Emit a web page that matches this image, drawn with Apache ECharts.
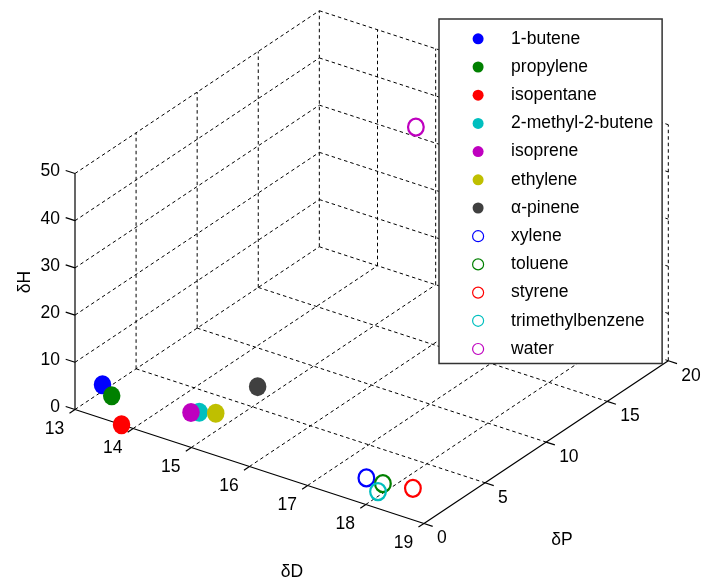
<!DOCTYPE html>
<html>
<head>
<meta charset="utf-8">
<script src="https://cdn.jsdelivr.net/npm/echarts@6/dist/echarts.min.js"></script>
<style>
  html, body { margin: 0; padding: 0; background: #fff; }
  #chart { width: 701px; height: 580px; }
</style>
</head>
<body>
<div id="chart"></div>
<script>
// Hansen solubility parameters (MPa^0.5) of each compound
const compounds = ['1-butene', 'propylene', 'isopentane', '2-methyl-2-butene', 'isoprene', 'ethylene',
                   'α-pinene', 'xylene', 'toluene', 'styrene', 'trimethylbenzene', 'water'];
const deltaD = [13.2, 13.4, 13.8, 14.8, 14.7, 15.0, 15.3, 17.8, 18.0, 18.6, 18.0, 15.5];
const deltaP = [1.3, 1.1, 0.0, 1.6, 1.4, 2.0, 4.0, 1.0, 1.4, 1.0, 1.0, 16.0];
const deltaH = [3.8, 2.6, 0.0, 3.9, 3.8, 3.8, 7.2, 3.1, 2.0, 4.1, 1.0, 42.3];
const hollow = [false, false, false, false, false, false, false, true, true, true, true, true];
const markerColors = ['#0000ff', '#008000', '#ff0000', '#00bfbf', '#bf00bf', '#bfbf00', '#404040',
                      '#0000ff', '#008000', '#ff0000', '#00bfbf', '#bf00bf'];

// Axis ticks
const dTicks = [13, 14, 15, 16, 17, 18, 19];
const pTicks = [0, 5, 10, 15, 20];
const hTicks = [0, 10, 20, 30, 40, 50];
const dRange = [13, 19], pRange = [0, 20], hRange = [0, 50];

// Orthographic view of the box: horizontal rotation and elevation in degrees
const AZ = 35.0, EL = 27.8;
const BOX = [1, 1, 0.6263];          // relative edge lengths along δD, δP, δH
const SCALE = 426;                   // pixels per box unit
const ORIGIN = [75, 409.5];          // pixel position of the (13, 0, 0) corner
const W = 701, H = 580;

const rad = Math.PI / 180;
const ca = Math.cos(AZ * rad), sa = Math.sin(AZ * rad);
const ce = Math.cos(EL * rad), se = Math.sin(EL * rad);

function project(d, p, h) {
  const u = (d - dRange[0]) / (dRange[1] - dRange[0]) * BOX[0];
  const v = (p - pRange[0]) / (pRange[1] - pRange[0]) * BOX[1];
  const w = (h - hRange[0]) / (hRange[1] - hRange[0]) * BOX[2];
  return [u * ca + v * sa, -u * sa * se + v * ca * se + w * ce];
}

// Box grid (dashed) and axes / ticks (solid): [x1, y1, x2, y2, solid]
const segments = [];
function addSeg(a, b, solid) {
  const p = project(a[0], a[1], a[2]);
  const q = project(b[0], b[1], b[2]);
  segments.push([p[0], p[1], q[0], q[1], solid ? 1 : 0]);
}
const [d0, d1] = dRange, [p0, p1] = pRange, [h0, h1] = hRange;
// floor
dTicks.forEach(d => { if (d !== d1) addSeg([d, p0, h0], [d, p1, h0], false); });
pTicks.forEach(p => { if (p !== p0) addSeg([d0, p, h0], [d1, p, h0], false); });
// δD = 13 wall
hTicks.forEach(h => { if (h !== h0) addSeg([d0, p0, h], [d0, p1, h], false); });
pTicks.forEach(p => { if (p !== p0) addSeg([d0, p, h0], [d0, p, h1], false); });
// δP = 20 wall
hTicks.forEach(h => { if (h !== h0) addSeg([d0, p1, h], [d1, p1, h], false); });
dTicks.forEach(d => { if (d !== d0) addSeg([d, p1, h0], [d, p1, h1], false); });
// axis lines
addSeg([d0, p0, h0], [d1, p0, h0], true);
addSeg([d1, p0, h0], [d1, p1, h0], true);
addSeg([d0, p0, h0], [d0, p0, h1], true);
// tick marks
dTicks.forEach(d => addSeg([d, p0, h0], [d, p0 - 0.45, h0], true));
pTicks.forEach(p => addSeg([d1, p, h0], [d1 + 0.15, p, h0], true));
hTicks.forEach(h => addSeg([d0, p0, h], [d0 - 0.16, p0, h], true));

// Tick labels: [x, y, axis (0 δD, 1 δP, 2 δH), value]
const tickLabels = [];
dTicks.forEach(d => { const q = project(d, p0, h0); tickLabels.push([q[0], q[1], 0, d]); });
pTicks.forEach(p => { const q = project(d1, p, h0); tickLabels.push([q[0], q[1], 1, p]); });
hTicks.forEach(h => { const q = project(d0, p0, h); tickLabels.push([q[0], q[1], 2, h]); });

const FONT = 'Liberation Sans, Arial, sans-serif';
const FS = 17.5;
const ELLIPSE = 'path://M0 -1A1 1 0 1 1 0 1A1 1 0 1 1 0 -1Z';

const series = [
  {
    type: 'custom',
    name: 'frame',
    coordinateSystem: 'cartesian2d',
    encode: { x: [0, 2], y: [1, 3] },
    clip: false,
    silent: true,
    z: 1,
    data: segments,
    renderItem: function (params, api) {
      const a = api.coord([api.value(0), api.value(1)]);
      const b = api.coord([api.value(2), api.value(3)]);
      const solid = api.value(4) === 1;
      return {
        type: 'line',
        shape: { x1: a[0], y1: a[1], x2: b[0], y2: b[1] },
        z2: solid ? 2 : 1,
        style: {
          stroke: '#000',
          lineWidth: solid ? 1.2 : 1,
          lineDash: solid ? null : [3.5, 3]
        }
      };
    }
  },
  {
    type: 'custom',
    name: 'ticklabels',
    coordinateSystem: 'cartesian2d',
    encode: { x: 0, y: 1 },
    clip: false,
    silent: true,
    z: 1,
    data: tickLabels,
    renderItem: function (params, api) {
      const p = api.coord([api.value(0), api.value(1)]);
      const axis = api.value(2);
      let x = p[0], y = p[1], align = 'center';
      if (axis === 0) { x -= 20.5; y += 20; }
      else if (axis === 1) { x += 13; y += 15; align = 'left'; }
      else { x -= 15; y -= 2; align = 'right'; }
      return {
        type: 'text',
        x: x, y: y,
        style: {
          text: String(api.value(3)),
          fill: '#000',
          font: FS + 'px ' + FONT,
          align: align,
          verticalAlign: 'middle'
        }
      };
    }
  }
];

compounds.forEach((name, i) => {
  const pt = project(deltaD[i], deltaP[i], deltaH[i]);
  series.push({
    type: 'scatter',
    name: name,
    coordinateSystem: 'cartesian2d',
    symbol: ELLIPSE,
    symbolSize: hollow[i] ? [15.7, 17] : [17.5, 19],
    z: 3,
    silent: true,
    itemStyle: hollow[i]
      ? { color: 'rgba(0,0,0,0)', borderColor: markerColors[i], borderWidth: 2.3, opacity: 1 }
      : { color: markerColors[i], borderWidth: 0, opacity: 1 },
    data: [pt]
  });
});

const legendData = compounds.map((name, i) => ({
  name: name,
  icon: 'circle',
  itemStyle: hollow[i]
    ? { color: '#ffffff', borderColor: markerColors[i], borderWidth: 1.2 }
    : { color: markerColors[i], borderWidth: 0 }
}));

const chart = echarts.init(document.getElementById('chart'), null, { renderer: 'canvas' });
chart.setOption({
  animation: false,
  backgroundColor: '#ffffff',
  grid: { left: 0, top: 0, width: W, height: H, containLabel: false },
  xAxis: {
    type: 'value', show: false,
    min: -ORIGIN[0] / SCALE, max: (W - ORIGIN[0]) / SCALE
  },
  yAxis: {
    type: 'value', show: false,
    min: -(H - ORIGIN[1]) / SCALE, max: ORIGIN[1] / SCALE
  },
  legend: {
    orient: 'vertical',
    left: 439,
    top: 19,
    padding: [10.8, 9, 5.5, 33],
    itemGap: 10.2,
    itemWidth: 56,
    itemHeight: 11,
    selectedMode: false,
    backgroundColor: '#ffffff',
    borderColor: '#333333',
    borderWidth: 1.5,
    borderRadius: 0,
    z: 10,
    textStyle: { color: '#000', fontFamily: FONT, fontSize: FS },
    data: legendData
  },
  graphic: [
    { type: 'text', x: 292, y: 572, z: 5, style: { text: 'δD', font: FS + 'px ' + FONT, fill: '#000', align: 'center', verticalAlign: 'middle' } },
    { type: 'text', x: 562, y: 540, z: 5, style: { text: 'δP', font: FS + 'px ' + FONT, fill: '#000', align: 'center', verticalAlign: 'middle' } },
    { type: 'text', x: 25, y: 282, rotation: Math.PI / 2, z: 5, style: { text: 'δH', font: FS + 'px ' + FONT, fill: '#000', align: 'center', verticalAlign: 'middle' } }
  ],
  series: series
});
</script>
</body>
</html>
